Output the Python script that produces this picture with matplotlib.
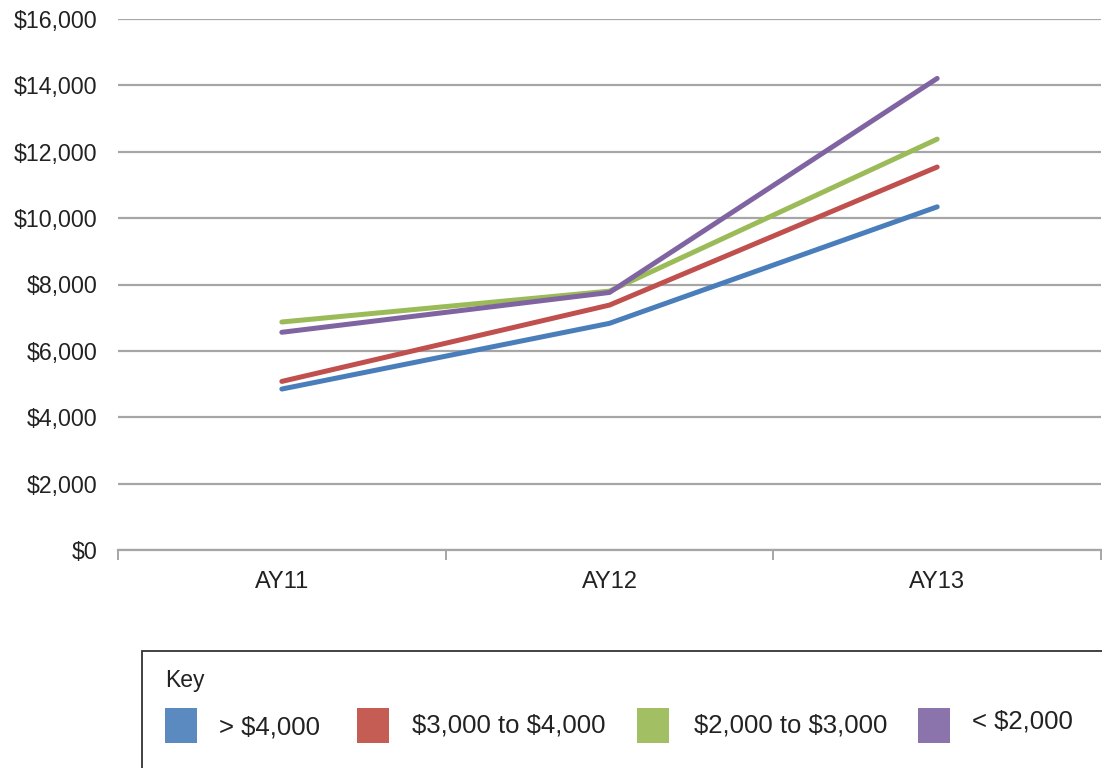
import matplotlib
matplotlib.use("Agg")
import matplotlib.pyplot as plt
from matplotlib.patches import Rectangle
from matplotlib.ticker import FuncFormatter, MultipleLocator

years = ["AY11", "AY12", "AY13"]
gt_4000 = [4850, 6830, 10340]
r_3000_4000 = [5080, 7380, 11540]
r_2000_3000 = [6870, 7800, 12380]
lt_2000 = [6560, 7760, 14210]

series_labels = ["> \\$4,000", "\\$3,000 to \\$4,000", "\\$2,000 to \\$3,000", "< \\$2,000"]
series = [gt_4000, r_3000_4000, r_2000_3000, lt_2000]
colors = ["#4a7ebb", "#c0504d", "#9bbb59", "#8064a2"]
legend_patch_colors = ["#5a8ac0", "#c65d55", "#a3bf63", "#8b74ab"]

plt.rcParams['font.family'] = ['Liberation Sans', 'DejaVu Sans']

fig = plt.figure(figsize=(11.02, 7.68), dpi=100)
W, H = 1102, 768
ax = fig.add_axes([118 / W, 1 - 550 / H, (1101 - 118) / W, (550 - 19) / H])

x = list(range(len(years)))
for vals, c in zip(series, colors):
    ax.plot(x, vals, color=c, lw=3.6, solid_capstyle='round', solid_joinstyle='round', zorder=3)

ax.set_xlim(-0.5, len(years) - 0.5)
ax.set_ylim(0, 16000)
ax.yaxis.set_major_locator(MultipleLocator(2000))
ax.yaxis.set_major_formatter(FuncFormatter(lambda v, p: "\\${:,.0f}".format(v)))
ax.grid(axis='y', color='#a6a6a6', lw=1.6, zorder=1)
ax.set_axisbelow(True)
for s in ['top', 'right', 'left']:
    ax.spines[s].set_visible(False)
ax.spines['bottom'].set_color('#a6a6a6')
ax.spines['bottom'].set_linewidth(1.6)

ax.set_xticks(x)
ax.set_xticklabels(years, fontsize=17)
ax.set_xticks([-0.5, 0.5, 1.5, 2.5], minor=True)
ax.tick_params(axis='x', which='major', length=0, pad=15)
ax.tick_params(axis='x', which='minor', length=7, color='#a6a6a6', width=1.4)
ax.tick_params(axis='y', length=0, pad=15, labelsize=16.7, labelcolor='#222222')
for lab in ax.get_xticklabels():
    lab.set_color('#222222')

# Legend ("Key") box
box = Rectangle((142 / W, -0.1), 2.0, (768 - 651) / H + 0.1, transform=fig.transFigure,
                fill=False, edgecolor='#333333', lw=1.3, clip_on=False)
fig.patches.append(box)
fig.text(165 / W, 1 - 681 / H, "Key", fontsize=16.5, va='center', ha='left', color='#222222')
patch_x = [165, 357, 637, 918]
label_x = [219, 412, 694, 972]
label_y = [728, 726, 726, 722]
for px, lx, ly, lab, c in zip(patch_x, label_x, label_y, series_labels, legend_patch_colors):
    fig.patches.append(Rectangle((px / W, 1 - 743 / H), 32 / W, 35 / H, transform=fig.transFigure,
                                 facecolor=c, edgecolor='none'))
    fig.text(lx / W, 1 - ly / H, lab, fontsize=18.5, va='center', ha='left', color='#222222')

fig.savefig("out.png", dpi=100)
